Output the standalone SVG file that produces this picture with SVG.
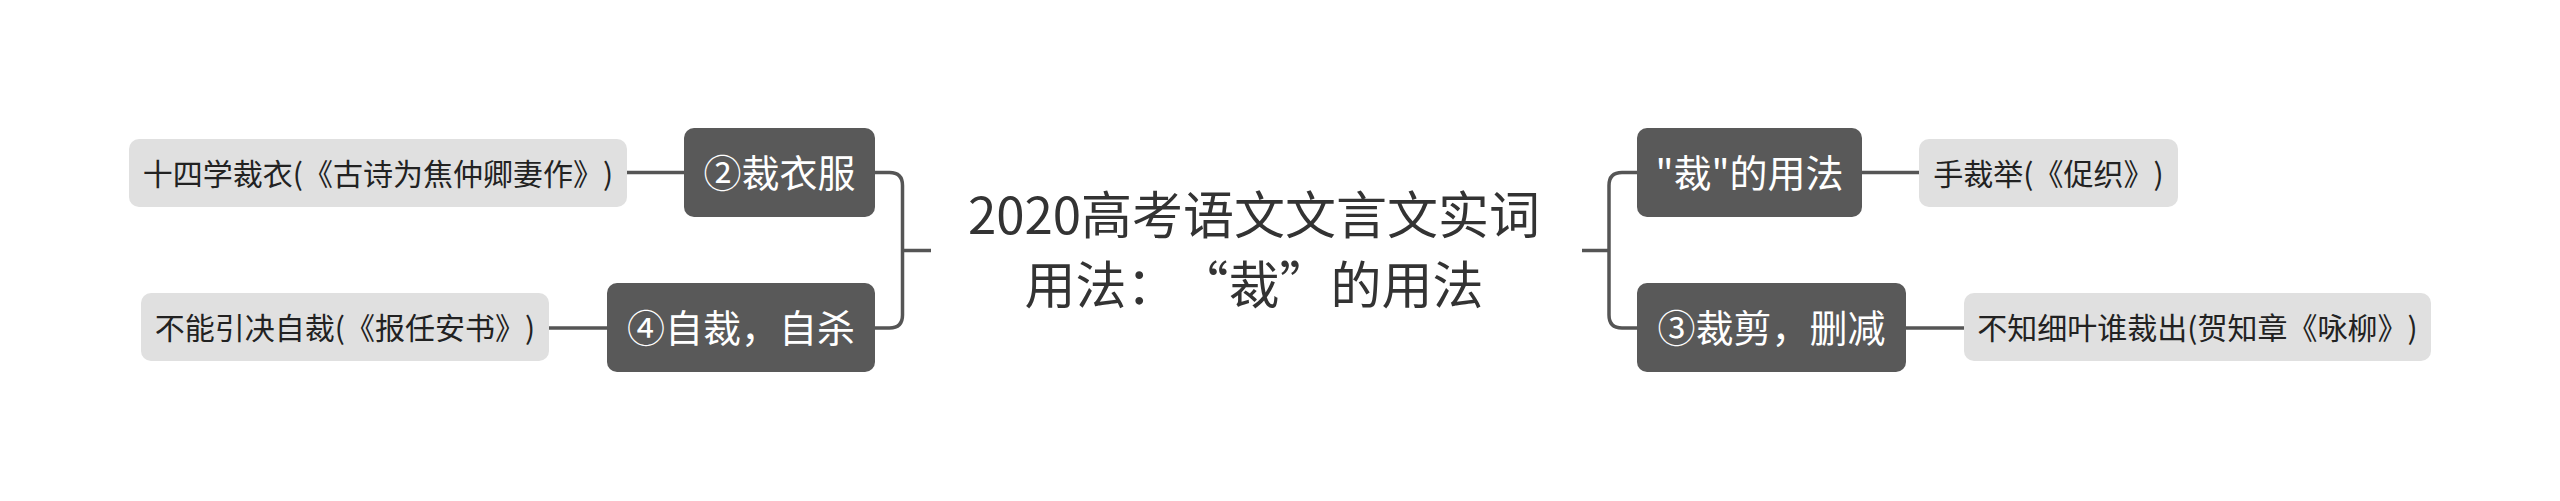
<svg xmlns="http://www.w3.org/2000/svg" width="2560" height="501" viewBox="0 0 2560 501">
<style>
.bg{fill:#ffffff}
.main rect{fill:#595959}
.main text{fill:#ffffff;font-size:38px}
.leaf rect{fill:#e0e0e0}
.leaf text{fill:#222222;font-size:30px}
.title text{fill:#333333;font-size:51px}
text{font-family:"Noto Sans CJK SC","Noto Sans",sans-serif;text-anchor:middle;text-spacing-trim:space-all}
.conn path{fill:none;stroke:#555555;stroke-width:3.5}
</style>
<rect class="bg" x="0" y="0" width="2560" height="501"/>
<g id="connectors" class="conn">
<path d="M875,172.5 H889.5 Q902.5,172.5 902.5,185.5 V315 Q902.5,328 889.5,328 H875"/>
<path d="M902.5,250.5 H931"/>
<path d="M1637,172.5 H1622 Q1609,172.5 1609,185.5 V315 Q1609,328 1622,328 H1637"/>
<path d="M1582,250.5 H1609"/>
<path d="M627,172.5 H684"/>
<path d="M549,328 H607"/>
<path d="M1862,172.5 H1919"/>
<path d="M1906,328 H1964"/>
</g>
<g id="title" class="title">
<text x="1254" y="234">2020高考语文文言文实词</text>
<text x="1254" y="304">用法：“裁”的用法</text>
</g>
<g id="n2" class="main">
<rect x="684" y="128" width="191" height="89" rx="10"/>
<text x="779.5" y="187">②裁衣服</text>
</g>
<g id="n4" class="main">
<rect x="607" y="283" width="268" height="89" rx="10"/>
<text x="741" y="342">④自裁，自杀</text>
</g>
<g id="leaf1" class="leaf">
<rect x="129" y="139" width="498" height="68" rx="10"/>
<text x="378" y="184.5">十四学裁衣(《古诗为焦仲卿妻作》)</text>
</g>
<g id="leaf2" class="leaf">
<rect x="141" y="293" width="408" height="68" rx="10"/>
<text x="345" y="338.5">不能引决自裁(《报任安书》)</text>
</g>
<g id="n1" class="main">
<rect x="1637" y="128" width="225" height="89" rx="10"/>
<text x="1749.5" y="187">"裁"的用法</text>
</g>
<g id="n3" class="main">
<rect x="1637" y="283" width="269" height="89" rx="10"/>
<text x="1771.5" y="342">③裁剪，删减</text>
</g>
<g id="leaf3" class="leaf">
<rect x="1919" y="139" width="259" height="68" rx="10"/>
<text x="2048.5" y="184.5">手裁举(《促织》)</text>
</g>
<g id="leaf4" class="leaf">
<rect x="1964" y="293" width="467" height="68" rx="10"/>
<text x="2197.5" y="338.5">不知细叶谁裁出(贺知章《咏柳》)</text>
</g>
</svg>
